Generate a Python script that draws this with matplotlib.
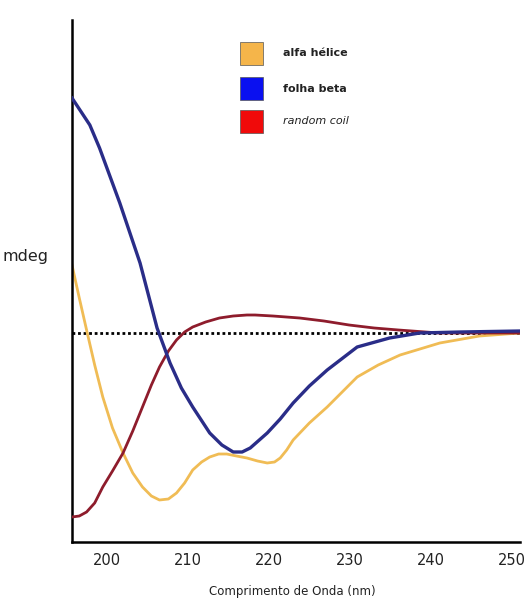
import matplotlib
matplotlib.use("Agg")
import matplotlib.pyplot as plt
from matplotlib.patches import Rectangle

# ---- data ----
wl_beta = [195.7, 197.9, 199.1, 201.6, 204.1, 206.2, 207.8, 209.2, 210.6, 212.7, 214.2, 215.6,
           216.7, 217.7, 219.8, 221.4, 223.0, 225.0, 227.2, 230.9, 234.9, 238.6, 243.6, 251.0]
beta = [235, 208, 185, 130, 70, 5, -30, -55, -74, -100, -112, -119,
        -119, -115, -100, -86, -70, -53, -37, -14, -5, 0, 1, 2]

wl_alpha = [195.7, 196.6, 197.5, 198.5, 199.5, 200.7, 202.0, 203.2, 204.4, 205.5, 206.5, 207.6, 208.6,
            209.6, 210.6, 211.7, 212.7, 213.8, 214.8, 216.0, 217.3, 218.6, 219.8, 220.7, 221.4, 222.2,
            223.0, 225.0, 227.2, 230.9, 233.5, 236.2, 241.1, 246.0, 251.0]
alpha = [68, 35, 3, -32, -64, -95, -120, -140, -154, -163, -167, -166, -160,
         -150, -137, -129, -124, -121, -121, -123, -125, -128, -130, -129, -125, -117,
         -107, -90, -74, -44, -32, -22, -10, -3, 0]

wl_coil = [195.7, 196.6, 197.5, 198.5, 199.5, 200.7, 202.0, 203.2, 204.4, 205.5, 206.5, 207.6,
           208.6, 209.6, 210.6, 212.2, 213.9, 215.6, 217.3, 218.3, 220.5, 223.8, 226.8, 229.9,
           233.0, 236.0, 241.0, 251.0]
coil = [-184, -183, -179, -170, -154, -138, -120, -98, -74, -52, -34, -18,
        -7, 1, 6, 11, 15, 17, 18, 18, 17, 15, 12, 8,
        5, 3, 0, 0]

legend_labels = ["alfa hélice", "folha beta", "random coil"]
legend_colors = ["#F5B54A", "#0A10F0", "#F00A0A"]
line_colors = ["#F0BC55", "#2A2D88", "#8E1C2C"]

xticks = [200, 210, 220, 230, 240, 250]
xlabel = "Comprimento de Onda (nm)"
ylabel = "mdeg"

W, H = 526, 603
fig = plt.figure(figsize=(W / 100, H / 100), dpi=100)
ax = fig.add_axes([72 / W, (H - 542) / H, (520 - 72) / W, (542 - 20) / H])

ax.axhline(0, color="black", lw=2.0, linestyle=(0, (1, 1)), zorder=1)
ax.plot(wl_alpha, alpha, color=line_colors[0], lw=2.0, solid_joinstyle="round", zorder=2)
ax.plot(wl_coil, coil, color=line_colors[2], lw=2.0, solid_joinstyle="round", zorder=3)
ax.plot(wl_beta, beta, color=line_colors[1], lw=2.4, solid_joinstyle="round", zorder=4)

ax.set_xlim(195.7, 251.0)
ax.set_ylim(-209, 313)
ax.set_xticks(xticks)
ax.set_xticklabels([str(t) for t in xticks], fontsize=10.5, color="#222222")
ax.tick_params(axis="x", length=0, pad=8)
ax.set_yticks([])
for s in ["top", "right"]:
    ax.spines[s].set_visible(False)
ax.spines["left"].set_linewidth(1.8)
ax.spines["bottom"].set_linewidth(1.8)

fig.text(292 / W, 1 - 591 / H, xlabel, ha="center", va="center", fontsize=8.5, color="#222222")
fig.text(2 / W, 1 - 256 / H, ylabel, ha="left", va="center", fontsize=11.5, color="#222222")

# manual legend
sq_y = [42, 77, 110]
for lab, col, y in zip(legend_labels, legend_colors, sq_y):
    fig.add_artist(Rectangle((240 / W, 1 - (y + 23) / H), 23 / W, 23 / H,
                             transform=fig.transFigure, facecolor=col, edgecolor="#555555", lw=0.5))
    fig.text(283 / W, 1 - (y + 11.5) / H, lab, ha="left", va="center", fontsize=8,
             color="#222222", style="italic" if lab == "random coil" else "normal",
             fontweight="bold" if lab != "random coil" else "normal")

fig.savefig("out.png", dpi=100)
